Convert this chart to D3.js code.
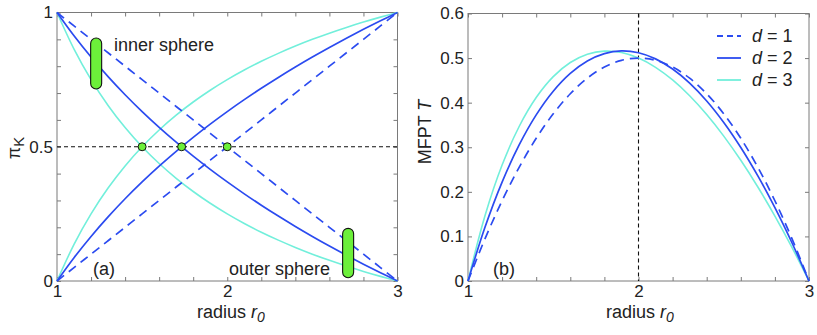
<!DOCTYPE html>
<html>
<head>
<meta charset="utf-8">
<script src="https://cdn.jsdelivr.net/npm/d3@7"></script>
<style>
  body { margin: 0; background: #fff; }
  svg { font-family: "Liberation Sans", Arial, sans-serif; }
</style>
</head>
<body>
<div id="chart"></div>
<script>
// radius values shared by every curve
const rValues = [1.0, 1.1, 1.2, 1.3, 1.4, 1.5, 1.6, 1.7, 1.8, 1.9, 2.0, 2.1, 2.2, 2.3, 2.4, 2.5, 2.6, 2.7, 2.8, 2.9, 3.0];

// panel (a): splitting probabilities
const piInnerD1 = [1, 0.95, 0.9, 0.85, 0.8, 0.75, 0.7, 0.65, 0.6, 0.55, 0.5, 0.45, 0.4, 0.35, 0.3, 0.25, 0.2, 0.15, 0.1, 0.05, 0];
const piOuterD1 = [0, 0.05, 0.1, 0.15, 0.2, 0.25, 0.3, 0.35, 0.4, 0.45, 0.5, 0.55, 0.6, 0.65, 0.7, 0.75, 0.8, 0.85, 0.9, 0.95, 1];
const piInnerD2 = [1, 0.91324, 0.83404, 0.76119, 0.69373, 0.63093, 0.57219, 0.517, 0.46497, 0.41576, 0.36907, 0.32466, 0.28231, 0.24185, 0.20311, 0.16596, 0.13026, 0.0959, 0.0628, 0.03086, 0];
const piOuterD2 = [0, 0.08676, 0.16596, 0.23881, 0.30627, 0.36907, 0.42781, 0.483, 0.53503, 0.58424, 0.63093, 0.67534, 0.71769, 0.75815, 0.79689, 0.83404, 0.86974, 0.9041, 0.9372, 0.96914, 1];
const piInnerD3 = [1, 0.86364, 0.75, 0.65385, 0.57143, 0.5, 0.4375, 0.38235, 0.33333, 0.28947, 0.25, 0.21429, 0.18182, 0.15217, 0.125, 0.1, 0.07692, 0.05556, 0.03571, 0.01724, 0];
const piOuterD3 = [0, 0.13636, 0.25, 0.34615, 0.42857, 0.5, 0.5625, 0.61765, 0.66667, 0.71053, 0.75, 0.78571, 0.81818, 0.84783, 0.875, 0.9, 0.92308, 0.94444, 0.96429, 0.98276, 1];
const crossR = [1.5, 1.732, 2.0];
const innerPill = { r: 1.23, lo: 0.715, hi: 0.905 };
const outerPill = { r: 2.71, lo: 0.012, hi: 0.196 };

// panel (b): mean first passage time
const mfptD1 = [0, 0.095, 0.18, 0.255, 0.32, 0.375, 0.42, 0.455, 0.48, 0.495, 0.5, 0.495, 0.48, 0.455, 0.42, 0.375, 0.32, 0.255, 0.18, 0.095, 0];
const mfptD2 = [0, 0.12101, 0.22191, 0.30512, 0.37254, 0.42565, 0.46562, 0.4935, 0.51006, 0.51597, 0.51186, 0.49819, 0.47538, 0.4438, 0.40378, 0.35559, 0.29949, 0.23569, 0.1644, 0.08578, 0];
const mfptD3 = [0, 0.14682, 0.26, 0.34654, 0.41143, 0.45833, 0.49, 0.50853, 0.51556, 0.51237, 0.5, 0.47929, 0.45091, 0.41544, 0.37333, 0.325, 0.27077, 0.21093, 0.14571, 0.07535, 0];

const xTickLabels = [1, 2, 3];
const xMinorTicks = [1, 1.2, 1.4, 1.6, 1.8, 2, 2.2, 2.4, 2.6, 2.8, 3];
const piTickLabels = [0, 0.5, 1];
const piMinorTicks = [0, 0.1, 0.2, 0.3, 0.4, 0.5, 0.6, 0.7, 0.8, 0.9, 1];
const mfptTicks = [0, 0.1, 0.2, 0.3, 0.4, 0.5, 0.6];
const legendLabels = ["1", "2", "3"];

const blue = "#2b4bf0", cyan = "#72efdb", green = "#6cf03a";
const frameColor = "#7a7a7a", textColor = "#222";

const svg = d3.select("#chart").append("svg")
  .attr("width", 817)
  .attr("height", 335);

function panel(x0, x1, y0, y1, yDomain, yMinor, yLabels, yFmt) {
  const x = d3.scaleLinear().domain([1, 3]).range([x0, x1]);
  const y = d3.scaleLinear().domain(yDomain).range([y1, y0]);
  const g = svg.append("g");

  // inward minor ticks on all four sides
  const tick = 4;
  g.append("g").attr("transform", `translate(0,${y1})`)
    .call(d3.axisBottom(x).tickValues(xMinorTicks).tickSize(-tick).tickFormat(""));
  g.append("g").attr("transform", `translate(0,${y0})`)
    .call(d3.axisTop(x).tickValues(xMinorTicks).tickSize(-tick).tickFormat(""));
  g.append("g").attr("transform", `translate(${x0},0)`)
    .call(d3.axisLeft(y).tickValues(yMinor).tickSize(-tick).tickFormat(""));
  g.append("g").attr("transform", `translate(${x1},0)`)
    .call(d3.axisRight(y).tickValues(yMinor).tickSize(-tick).tickFormat(""));
  g.selectAll(".domain").remove();
  g.selectAll(".tick line").attr("stroke", frameColor);

  // labels
  const lx = g.append("g").attr("transform", `translate(0,${y1})`)
    .call(d3.axisBottom(x).tickValues(xTickLabels).tickSize(0).tickPadding(4).tickFormat(d3.format("d")));
  const ly = g.append("g").attr("transform", `translate(${x0},0)`)
    .call(d3.axisLeft(y).tickValues(yLabels).tickSize(0).tickPadding(4).tickFormat(yFmt));
  [lx, ly].forEach(a => {
    a.select(".domain").remove();
    a.selectAll("text").attr("fill", textColor).style("font-size", "17px")
      .style("font-family", "'Liberation Sans', Arial, sans-serif");
  });

  g.append("rect")
    .attr("x", x0).attr("y", y0)
    .attr("width", x1 - x0).attr("height", y1 - y0)
    .attr("fill", "none").attr("stroke", frameColor).attr("stroke-width", 1);

  return { g, x, y };
}

function drawCurve(p, values, color, dashed, width) {
  const line = d3.line()
    .x((d, i) => p.x(rValues[i]))
    .y(d => p.y(d))
    .curve(d3.curveCatmullRom);
  p.g.append("path")
    .datum(values)
    .attr("d", line)
    .attr("fill", "none")
    .attr("stroke", color)
    .attr("stroke-width", width)
    .attr("stroke-dasharray", dashed ? "9,6" : null);
}

function xLabel(p, cx) {
  const t = p.g.append("text")
    .attr("x", cx).attr("y", 318)
    .attr("text-anchor", "middle")
    .attr("fill", textColor)
    .style("font-size", "18px");
  t.append("tspan").text("radius ");
  t.append("tspan").style("font-style", "italic").text("r");
  t.append("tspan").style("font-style", "italic").style("font-size", "14px").attr("dy", 4).text("0");
}

// ---- panel (a)
const a = panel(57, 397.5, 12.5, 281, [0, 1], piMinorTicks, piTickLabels, d => d === 0.5 ? "0.5" : d3.format("d")(d));

a.g.append("line")
  .attr("x1", a.x(1)).attr("x2", a.x(3))
  .attr("y1", a.y(0.5)).attr("y2", a.y(0.5))
  .attr("stroke", "#111").attr("stroke-width", 1.1).attr("stroke-dasharray", "4,3");

drawCurve(a, piInnerD3, cyan, false, 1.6);
drawCurve(a, piOuterD3, cyan, false, 1.6);
drawCurve(a, piInnerD1, blue, true, 1.7);
drawCurve(a, piOuterD1, blue, true, 1.7);
drawCurve(a, piInnerD2, blue, false, 1.7);
drawCurve(a, piOuterD2, blue, false, 1.7);

a.g.selectAll(".cross")
  .data(crossR)
  .enter().append("circle")
  .attr("cx", d => a.x(d))
  .attr("cy", a.y(0.5))
  .attr("r", 4)
  .attr("fill", green)
  .attr("stroke", "#111")
  .attr("stroke-width", 1);

[innerPill, outerPill].forEach(pl => {
  const w = 11;
  a.g.append("rect")
    .attr("x", a.x(pl.r) - w / 2)
    .attr("y", a.y(pl.hi))
    .attr("width", w)
    .attr("height", a.y(pl.lo) - a.y(pl.hi))
    .attr("rx", w / 2).attr("ry", w / 2)
    .attr("fill", green)
    .attr("stroke", "#111")
    .attr("stroke-width", 1.1);
});

a.g.append("text").attr("x", 114).attr("y", 51)
  .attr("fill", textColor).style("font-size", "18px").text("inner sphere");
a.g.append("text").attr("x", 330).attr("y", 275)
  .attr("text-anchor", "end")
  .attr("fill", textColor).style("font-size", "18px").text("outer sphere");
a.g.append("text").attr("x", 93).attr("y", 275)
  .attr("fill", textColor).style("font-size", "18px").text("(a)");

const piLab = a.g.append("text")
  .attr("transform", "translate(20,148) rotate(-90)")
  .attr("text-anchor", "middle")
  .attr("fill", textColor)
  .style("font-size", "18px");
piLab.append("tspan").text("π");
piLab.append("tspan").attr("dy", 4).style("font-size", "15px").text("K");

xLabel(a, 231);

// ---- panel (b)
const b = panel(468, 809, 13.5, 281, [0, 0.6], mfptTicks, mfptTicks, d => d === 0 ? "0" : d3.format(".1f")(d));

b.g.append("line")
  .attr("x1", b.x(2)).attr("x2", b.x(2))
  .attr("y1", b.y(0.6)).attr("y2", b.y(0))
  .attr("stroke", "#111").attr("stroke-width", 1.1).attr("stroke-dasharray", "4,3");

drawCurve(b, mfptD3, cyan, false, 1.6);
drawCurve(b, mfptD1, blue, true, 1.7);
drawCurve(b, mfptD2, blue, false, 1.7);

b.g.append("text").attr("x", 493).attr("y", 275)
  .attr("fill", textColor).style("font-size", "18px").text("(b)");

const tLab = b.g.append("text")
  .attr("transform", "translate(431,132) rotate(-90)")
  .attr("text-anchor", "middle")
  .attr("fill", textColor)
  .style("font-size", "18px");
tLab.append("tspan").text("MFPT ");
tLab.append("tspan").style("font-style", "italic").text("T");

xLabel(b, 640);

// legend
const legendStyles = [
  { color: blue, dashed: true },
  { color: blue, dashed: false },
  { color: cyan, dashed: false }
];
const legend = b.g.append("g");
legendLabels.forEach((lab, i) => {
  const yy = 36 + i * 22;
  legend.append("line")
    .attr("x1", 717).attr("x2", 741)
    .attr("y1", yy).attr("y2", yy)
    .attr("stroke", legendStyles[i].color)
    .attr("stroke-width", 1.8)
    .attr("stroke-dasharray", legendStyles[i].dashed ? "6,4" : null);
  const t = legend.append("text")
    .attr("x", 752).attr("y", yy + 6)
    .attr("fill", textColor)
    .style("font-size", "18px");
  t.append("tspan").style("font-style", "italic").text("d");
  t.append("tspan").text("  = " + lab);
});
</script>
</body>
</html>
